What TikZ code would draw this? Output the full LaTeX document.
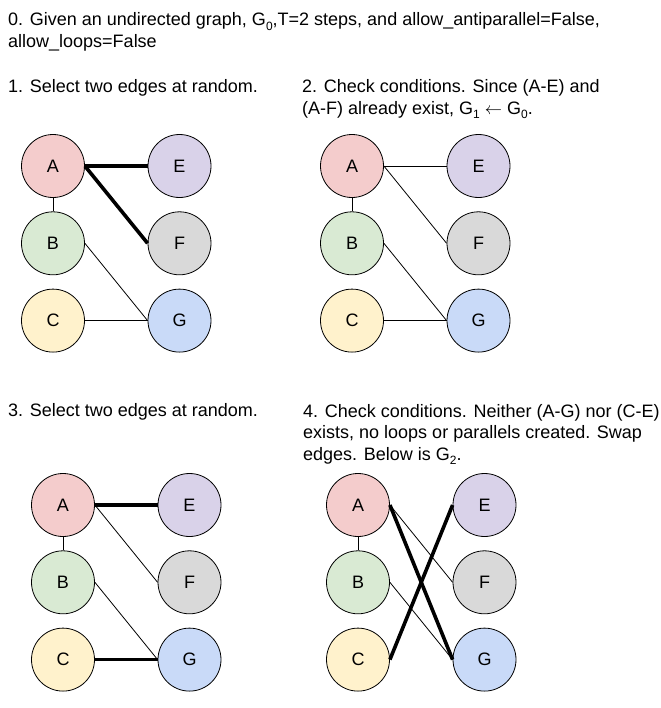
\documentclass[tikz,border=0pt]{standalone}
\usepackage{fontspec}
\setmainfont{Liberation Sans}
\usetikzlibrary{positioning}
\definecolor{fillA}{HTML}{F4CCCC}
\definecolor{fillB}{HTML}{D9EAD3}
\definecolor{fillC}{HTML}{FFF2CC}
\definecolor{fillE}{HTML}{D9D2E9}
\definecolor{fillF}{HTML}{D9D9D9}
\definecolor{fillG}{HTML}{C9DAF8}
\newcommand{\lowidx}[1]{\raisebox{-4.5bp}{\fontsize{12bp}{12bp}\selectfont #1}}
\tikzset {
    vertex/.style = {circle, draw, line width = 0.8bp, minimum size = 63bp, inner sep = 0pt,
        font = \fontsize{18bp}{18bp}\selectfont},
    plain edge/.style = {line width = 0.8bp},
    picked edge/.style = {line width = 3.6bp},
    caption/.style = {anchor = base west, inner sep = 0pt, align = left,
        font = \fontsize{18bp}{21.5bp}\selectfont},
}
\begin{document}
\begin{tikzpicture}[x = 1bp, y = -1bp]
    \useasboundingbox (0, 0) rectangle (661, 708);
    % captions (base = last line)
    \node (step0) [caption] at (8, 47.5) {0. Given an undirected graph, G\lowidx{0},T=2 steps, and allow\_antiparallel=False,\\allow\_loops=False};
    \node (step1) [caption] at (8, 93) {1. Select two edges at random.};
    \node (step2) [caption] at (302, 114.5) {2. Check conditions. Since (A-E) and\\(A-F) already exist, G\lowidx{1} $\leftarrow$ G\lowidx{0}.};
    \node (step3) [caption] at (8, 416) {3. Select two edges at random.};
    \node (step4) [caption] at (303, 460) {4. Check conditions. Neither (A-G) nor (C-E)\\exists, no loops or parallels created. Swap\\edges. Below is G\lowidx{2}.};
    % the four graphs
    \foreach \p/\x/\y in {1/53/166, 2/352/166, 3/63/505, 4/358/505} {
        \node (\p A) [vertex, fill = fillA] at (\x, \y) {A};
        \node (\p B) [vertex, fill = fillB] at (\x, \y + 77.3) {B};
        \node (\p C) [vertex, fill = fillC] at (\x, \y + 154.6) {C};
        \node (\p E) [vertex, fill = fillE] at (\x + 126.5, \y) {E};
        \node (\p F) [vertex, fill = fillF] at (\x + 126.5, \y + 77.3) {F};
        \node (\p G) [vertex, fill = fillG] at (\x + 126.5, \y + 154.6) {G};
        \draw [plain edge] (\p A.south) -- (\p B.north);
    }
    % step 1
    \draw [picked edge] (1A.east) -- (1E.west);
    \draw [picked edge] (1A.east) -- (1F.west);
    \draw [plain edge] (1B.east) -- (1G.west);
    \draw [plain edge] (1C.east) -- (1G.west);
    % step 2
    \draw [plain edge] (2A.east) -- (2E.west);
    \draw [plain edge] (2A.east) -- (2F.west);
    \draw [plain edge] (2B.east) -- (2G.west);
    \draw [plain edge] (2C.east) -- (2G.west);
    % step 3
    \draw [picked edge] (3A.east) -- (3E.west);
    \draw [plain edge] (3A.east) -- (3F.west);
    \draw [plain edge] (3B.east) -- (3G.west);
    \draw [picked edge] (3C.east) -- (3G.west);
    % step 4
    \draw [plain edge] (4A.east) -- (4F.west);
    \draw [picked edge] (4A.east) -- (4G.west);
    \draw [plain edge] (4B.east) -- (4G.west);
    \draw [picked edge] (4C.east) -- (4E.west);
\end{tikzpicture}
\end{document}
